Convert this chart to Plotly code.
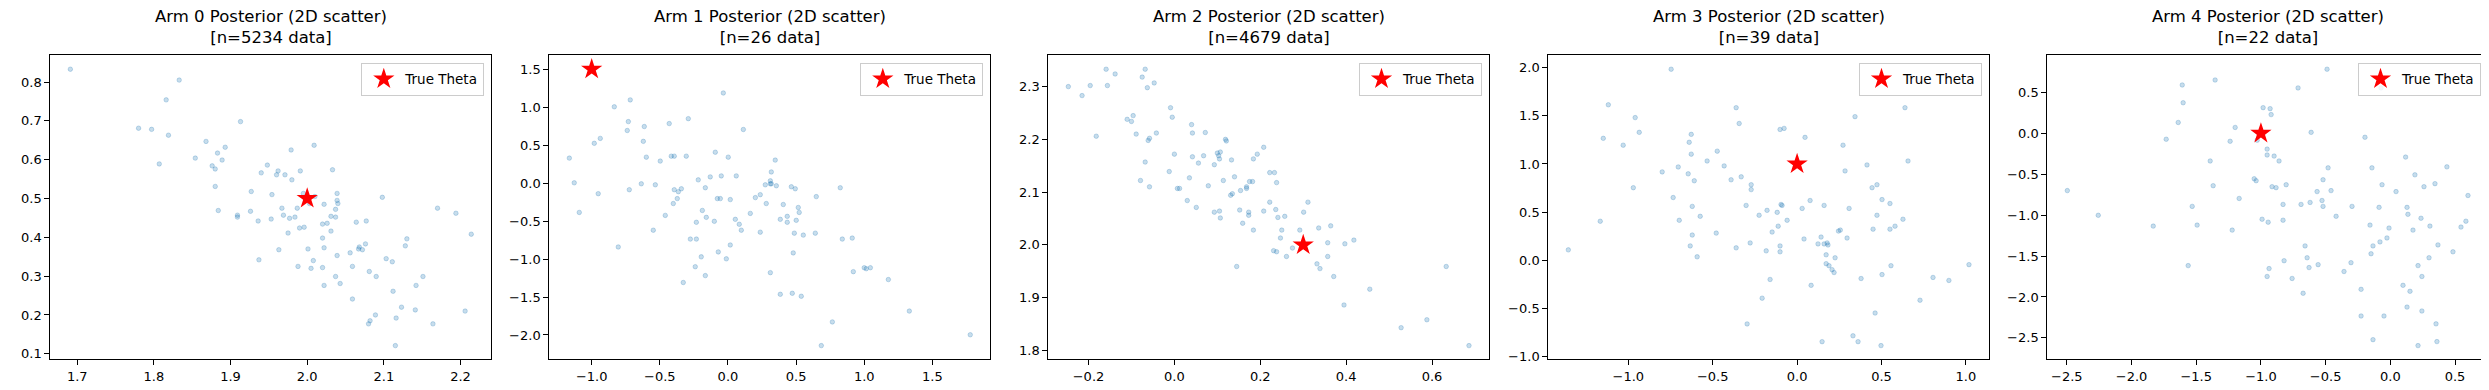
import plotly.graph_objects as go

# ---------------- data ----------------
titles = [
    "Arm 0 Posterior (2D scatter)<br>[n=5234 data]",
    "Arm 1 Posterior (2D scatter)<br>[n=26 data]",
    "Arm 2 Posterior (2D scatter)<br>[n=4679 data]",
    "Arm 3 Posterior (2D scatter)<br>[n=39 data]",
    "Arm 4 Posterior (2D scatter)<br>[n=22 data]",
]
true_theta_x = [2.0, -1.0, 0.3, 0.0, -1.0]
true_theta_y = [0.5, 1.5, 2.0, 1.0, 0.0]

arm0_x = [1.691, 1.833, 1.816, 1.780, 1.797, 1.819, 1.913, 1.868, 1.893, 1.883, 1.807, 1.854, 1.876, 1.880,
          1.889, 1.880, 1.884, 1.927, 1.909, 1.909, 1.926, 1.936, 1.937, 1.948, 1.940, 1.960, 1.962, 1.971,
          1.979, 1.980, 1.991, 2.009, 2.033, 1.954, 1.953, 1.967, 1.969, 1.977, 1.984, 1.987, 1.995, 2.010,
          2.003, 1.975, 1.990, 1.996, 1.963, 2.001, 1.988, 2.005, 2.008, 2.020, 2.026, 2.022, 2.020, 2.022,
          2.031, 2.031, 2.037, 2.037, 2.039, 2.039, 2.040, 2.039, 2.020, 2.037, 2.022, 2.043, 2.059, 2.056,
          2.059, 2.064, 2.077, 2.067, 2.068, 2.072, 2.076, 2.081, 2.090, 2.098, 2.103, 2.111, 2.112, 2.128,
          2.130, 2.151, 2.142, 2.141, 2.123, 2.116, 2.089, 2.082, 2.080, 2.115, 2.164, 2.170, 2.194, 2.214,
          2.206]
arm0_y = [0.833, 0.805, 0.754, 0.681, 0.678, 0.663, 0.698, 0.647, 0.632, 0.617, 0.589, 0.604, 0.584, 0.576,
          0.599, 0.531, 0.469, 0.518, 0.457, 0.452, 0.467, 0.442, 0.342, 0.586, 0.566, 0.561, 0.571, 0.561,
          0.625, 0.548, 0.571, 0.637, 0.574, 0.510, 0.447, 0.475, 0.457, 0.449, 0.452, 0.475, 0.513, 0.505,
          0.487, 0.411, 0.424, 0.426, 0.368, 0.370, 0.325, 0.320, 0.340, 0.434, 0.436, 0.485, 0.398, 0.373,
          0.454, 0.416, 0.472, 0.452, 0.513, 0.495, 0.487, 0.353, 0.322, 0.299, 0.276, 0.281, 0.241, 0.360,
          0.325, 0.439, 0.442, 0.370, 0.375, 0.368, 0.383, 0.312, 0.299, 0.503, 0.345, 0.337, 0.261, 0.378,
          0.396, 0.299, 0.276, 0.213, 0.220, 0.192, 0.200, 0.185, 0.177, 0.121, 0.177, 0.475, 0.462, 0.408,
          0.210]

arm1_x = [-0.034, -0.717, -0.834, -0.731, -0.739, -0.614, -0.291, -0.431, 0.113, -0.937, -0.981, -0.621,
          -1.164, -0.599, -0.497, -0.416, -0.394, -0.306, -0.093, 0.002, 0.347, 0.318, -1.128, -0.952, -1.091,
          -0.636, -0.533, -0.724, -0.394, -0.364, -0.342, -0.372, -0.401, -0.218, -0.130, -0.049, 0.061,
          -0.166, -0.078, -0.056, 0.017, -0.188, -0.159, -0.100, -0.232, -0.460, -0.548, -0.276, -0.232,
          -0.805, -0.196, -0.071, -0.012, 0.017, -0.240, -0.166, -0.328, 0.054, 0.083, 0.098, 0.164, 0.201,
          0.237, 0.274, 0.311, 0.311, 0.318, 0.355, 0.281, 0.237, 0.406, 0.384, 0.435, 0.435, 0.465, 0.494,
          0.516, 0.523, 0.501, 0.487, 0.553, 0.479, 0.648, 0.641, 0.824, 0.839, 0.912, 0.920, 1.000, 1.015,
          1.045, 1.177, 0.311, 0.384, 0.472, 0.538, 0.766, 0.685, 1.331, 1.778]
arm1_y = [1.187, 1.096, 1.005, 0.810, 0.693, 0.745, 0.849, 0.784, 0.706, 0.589, 0.524, 0.550, 0.329, 0.342,
          0.290, 0.355, 0.355, 0.355, 0.407, 0.342, 0.303, 0.147, 0.004, -0.139, -0.386, -0.009, -0.022,
          -0.087, -0.087, -0.113, -0.074, -0.204, -0.269, 0.043, 0.082, 0.095, 0.095, -0.061, -0.204, -0.204,
          -0.217, -0.360, -0.451, -0.503, -0.516, -0.425, -0.620, -0.737, -0.737, -0.841, -0.971, -0.906,
          -0.997, -0.815, -1.101, -1.218, -1.309, -0.477, -0.542, -0.620, -0.399, -0.191, -0.152, -0.022,
          0.030, -0.009, -0.009, -0.035, -0.269, -0.646, -0.282, -0.477, -0.438, -0.516, -0.048, -0.074,
          -0.321, -0.386, -0.490, -0.659, -0.685, -0.919, -0.178, -0.659, -0.061, -0.737, -0.724, -1.166,
          -1.114, -1.127, -1.114, -1.270, -1.179, -1.464, -1.451, -1.490, -1.828, -2.140, -1.685, -1.997]

arm2_x = [-0.247, -0.215, -0.196, -0.159, -0.156, -0.138, -0.075, -0.068, -0.063, -0.047, -0.182, -0.110,
          -0.100, -0.096, -0.089, -0.061, -0.058, -0.042, -0.009, -0.005, -0.068, -0.079, -0.058, -0.012,
          0.000, 0.007, 0.012, 0.030, 0.051, 0.035, 0.040, 0.042, 0.042, 0.056, 0.068, 0.072, 0.079, 0.093,
          0.093, 0.100, 0.103, 0.105, 0.107, 0.105, 0.107, 0.114, 0.119, 0.121, 0.131, 0.135, 0.133, 0.140,
          0.145, 0.152, 0.154, 0.159, 0.168, 0.168, 0.173, 0.173, 0.175, 0.182, 0.184, 0.184, 0.193, 0.208,
          0.208, 0.222, 0.233, 0.238, 0.222, 0.236, 0.241, 0.257, 0.250, 0.247, 0.231, 0.238, 0.261, 0.275,
          0.292, 0.301, 0.311, 0.336, 0.364, 0.357, 0.357, 0.332, 0.339, 0.371, 0.397, 0.418, 0.395, 0.455,
          0.528, 0.588, 0.633, 0.686]
arm2_y = [2.300, 2.283, 2.302, 2.333, 2.302, 2.324, 2.318, 2.333, 2.298, 2.307, 2.206, 2.238, 2.234, 2.245,
          2.210, 2.198, 2.202, 2.212, 2.260, 2.242, 2.157, 2.122, 2.110, 2.139, 2.172, 2.107, 2.107, 2.084,
          2.071, 2.127, 2.228, 2.212, 2.167, 2.155, 2.169, 2.213, 2.112, 2.152, 2.062, 2.174, 2.169, 2.163,
          2.176, 2.064, 2.051, 2.122, 2.200, 2.197, 2.094, 2.097, 2.161, 2.129, 1.959, 2.066, 2.103, 2.041,
          2.110, 2.107, 2.062, 2.056, 2.120, 2.120, 2.028, 2.163, 2.172, 2.185, 2.064, 2.137, 2.137, 2.118,
          2.081, 2.067, 2.052, 2.054, 2.028, 2.013, 1.989, 1.987, 1.978, 1.994, 2.028, 2.062, 2.081, 2.032,
          2.036, 2.004, 1.978, 1.964, 1.955, 1.940, 2.002, 2.009, 1.886, 1.916, 1.843, 1.858, 1.959, 1.809]

arm3_x = [-0.746, -1.118, -0.959, -0.935, -1.148, -1.030, -0.361, -0.343, -0.101, -0.077, 0.047, 0.343,
          0.639, 0.272, 0.414, 0.284, 0.657, 0.444, 0.473, 0.503, 0.550, 0.308, 0.473, 0.627, 0.580, 0.550,
          0.450, 0.256, 0.245, 0.296, -0.627, -0.639, -0.627, -0.473, -0.533, -0.432, -0.704, -0.799, -0.645,
          -0.609, -0.391, -0.331, -0.272, -0.272, -0.970, -0.734, -0.621, -0.698, -0.574, -1.166, -1.355,
          -0.621, -0.479, -0.633, -0.592, -0.361, -0.278, -0.302, -0.225, -0.178, -0.118, -0.095, -0.089,
          -0.059, -0.112, -0.148, 0.030, 0.077, 0.160, 0.041, 0.142, 0.124, 0.160, 0.178, 0.183, 0.172, 0.172,
          0.189, 0.207, 0.219, 0.225, -0.101, -0.101, -0.183, -0.160, 0.083, -0.207, -0.296, 0.148, 0.331,
          0.361, 0.497, 0.462, 0.379, 0.503, 0.556, 0.728, 0.805, 0.899, 1.018]
arm3_y = [1.983, 1.614, 1.481, 1.328, 1.266, 1.195, 1.584, 1.420, 1.358, 1.369, 1.276, 1.491, 1.584, 1.195,
          0.990, 0.928, 1.031, 0.754, 0.785, 0.631, 0.590, 0.539, 0.468, 0.427, 0.355, 0.324, 0.324, 0.314,
          0.304, 0.232, 1.307, 1.225, 1.102, 1.133, 1.031, 0.980, 0.969, 0.918, 0.898, 0.826, 0.836, 0.867,
          0.785, 0.734, 0.754, 0.652, 0.560, 0.416, 0.457, 0.406, 0.109, 0.263, 0.283, 0.150, 0.037, 0.130,
          0.181, 0.570, 0.468, 0.519, 0.498, 0.580, 0.570, 0.416, 0.355, 0.294, 0.539, 0.621, 0.570, 0.222,
          0.242, 0.171, 0.171, 0.181, 0.160, 0.058, -0.034, -0.055, -0.096, -0.126, 0.027, 0.150, 0.089,
          0.099, -0.198, -0.259, -0.392, -0.659, -0.843, -0.782, -0.843, -0.884, -0.546, -0.188, -0.147,
          -0.055, -0.413, -0.177, -0.208, -0.044]

arm4_x = [-0.489, -1.354, -1.608, -0.713, -0.072, -1.601, -0.983, -0.929, -0.921, -1.639, -1.199, -0.612,
          -1.732, -1.238, -1.029, -0.196, -0.952, -0.952, -0.898, -0.860, -1.392, -0.481, -0.142, 0.118,
          0.437, 0.190, -1.052, -1.037, -1.369, -0.914, -0.883, -0.805, -0.520, -0.566, -0.458, -0.064, 0.044,
          0.260, 0.345, 0.600, -1.168, -1.531, -0.829, -0.690, -0.620, -0.528, -0.520, -0.419, -0.296, -0.087,
          0.129, 0.136, 0.237, -2.257, -2.496, -1.832, -1.493, -1.222, -0.991, -0.944, -0.829, -0.157, -0.010,
          -0.026, -0.080, -0.134, -0.149, 0.175, 0.306, 0.546, 0.584, 0.368, 0.484, 0.299, 0.214, 0.244, 0.098,
          0.152, 0.129, 0.244, 0.353, 0.360, 0.214, -0.134, -0.226, -0.049, -0.226, -0.304, -0.358, -0.659,
          -0.643, -0.628, -0.558, -0.821, -0.937, -0.952, -0.759, -0.674, -1.562]
arm4_y = [0.784, 0.652, 0.591, 0.555, 0.555, 0.374, 0.314, 0.302, 0.229, 0.133, 0.072, 0.012, -0.072, -0.097,
          -0.084, -0.048, -0.193, -0.265, -0.278, -0.338, -0.338, -0.422, -0.422, -0.290, -0.410, -0.507,
          -0.555, -0.579, -0.640, -0.652, -0.664, -0.628, -0.567, -0.712, -0.700, -0.628, -0.712, -0.652,
          -0.615, -0.760, -0.796, -0.893, -0.869, -0.869, -0.845, -0.821, -0.893, -1.014, -0.893, -0.905,
          -0.905, -0.990, -1.038, -1.002, -0.700, -1.134, -1.122, -1.183, -1.050, -1.086, -1.062, -1.122,
          -1.158, -1.279, -1.327, -1.376, -1.472, -1.183, -1.134, -1.146, -1.074, -1.364, -1.448, -1.521,
          -1.617, -1.750, -1.858, -1.931, -2.124, -2.172, -2.329, -2.546, -2.595, -2.522, -2.233, -2.233,
          -1.907, -1.581, -1.689, -1.376, -1.521, -1.641, -1.605, -1.557, -1.653, -1.750, -1.774, -1.955,
          -1.617]

arms_x = [arm0_x, arm1_x, arm2_x, arm3_x, arm4_x]
arms_y = [arm0_y, arm1_y, arm2_y, arm3_y, arm4_y]
x_dtick = [0.1, 0.5, 0.2, 0.5, 0.5]
y_dtick = [0.1, 0.5, 0.1, 0.5, 0.5]

# ---------------- layout geometry (pixels) ----------------
W, H = 2489, 390
ax_left = [42.3, 541.3, 1040.3, 1540.3, 2039.3]
ax_right = [483.3, 982.3, 1481.0, 1981.0, 2480.0]
ax_top, ax_bottom = 48.0, 356.0

fig = go.Figure()
layout = dict(
    width=W, height=H,
    margin=dict(l=0, r=0, t=0, b=0),
    paper_bgcolor="white", plot_bgcolor="white",
    font=dict(family="DejaVu Sans", size=13, color="black"),
    showlegend=True,
    annotations=[],
)

tick_font = dict(family="DejaVu Sans", size=13, color="black")

for i in range(5):
    sfx = "" if i == 0 else str(i + 1)
    xa, ya = "x" + sfx, "y" + sfx
    leg = "legend" + sfx
    fig.add_trace(go.Scatter(
        x=arms_x[i], y=arms_y[i], mode="markers", xaxis=xa, yaxis=ya,
        marker=dict(size=4.5, color="rgba(31,119,180,0.25)",
                    line=dict(width=0.8, color="rgba(31,119,180,0.3)")),
        showlegend=False, hoverinfo="skip"))
    fig.add_trace(go.Scatter(
        x=[true_theta_x[i]], y=[true_theta_y[i]], mode="markers", xaxis=xa, yaxis=ya,
        marker=dict(symbol="star", size=16, color="red", line=dict(width=0)),
        name="True Theta", legend=leg, showlegend=True))

    allx = arms_x[i] + [true_theta_x[i]]
    ally = arms_y[i] + [true_theta_y[i]]
    xlo, xhi = min(allx), max(allx)
    ylo, yhi = min(ally), max(ally)
    px_, py_ = 0.05 * (xhi - xlo), 0.05 * (yhi - ylo)

    x0, x1 = ax_left[i] / W, ax_right[i] / W
    y0, y1 = 1 - ax_bottom / H, 1 - ax_top / H
    common = dict(showgrid=False, zeroline=False, showline=True, linecolor="black", linewidth=1,
                  mirror=True, ticks="outside", ticklen=5, tickwidth=1, tickcolor="black",
                  tickfont=tick_font, tickformat=".1f", tick0=0)
    layout["xaxis" + sfx] = dict(domain=[x0, x1], anchor=ya, range=[xlo - px_, xhi + px_],
                                 dtick=x_dtick[i], **common)
    layout["yaxis" + sfx] = dict(domain=[y0, y1], anchor=xa, range=[ylo - py_, yhi + py_],
                                 dtick=y_dtick[i], **common)
    layout[leg] = dict(x=x1 - 7 / W, y=y1 - 7.3 / H, xanchor="right", yanchor="top",
                       bgcolor="rgba(255,255,255,0.8)", bordercolor="#cccccc", borderwidth=1,
                       itemwidth=33,
                       font=dict(family="DejaVu Sans", size=13.5, color="black"))
    layout["annotations"].append(dict(
        text=titles[i], xref="paper", yref="paper", x=(x0 + x1) / 2, y=y1 + 6 / H,
        xanchor="center", yanchor="bottom", showarrow=False, align="center",
        font=dict(family="DejaVu Sans", size=16.5, color="black")))

fig.update_layout(**layout)
fig.write_html("out.html")
